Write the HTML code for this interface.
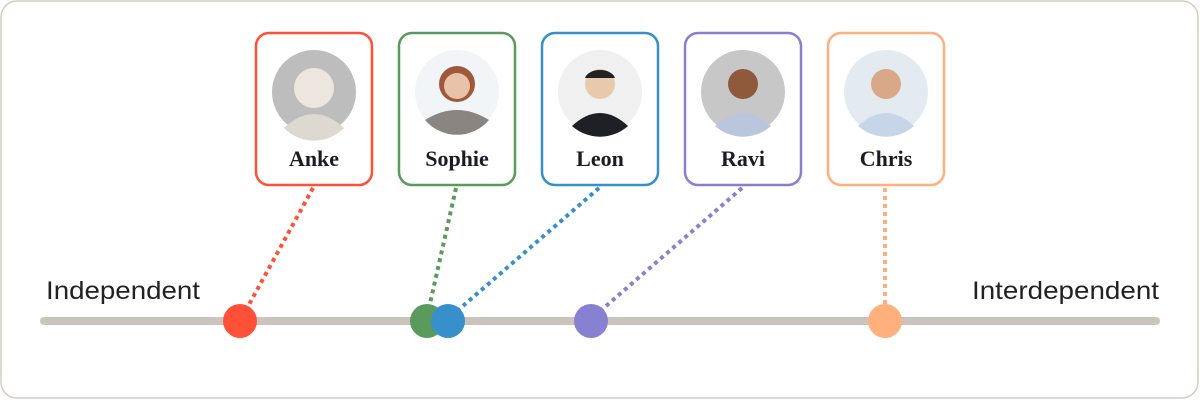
<!DOCTYPE html>
<html><head><style>
body{margin:0;width:1200px;height:400px;background:#fff;overflow:hidden}
</style></head><body>
<svg width="1200" height="400" xmlns="http://www.w3.org/2000/svg">
<rect x="1" y="1" width="1197" height="397" rx="16" fill="#fff" stroke="#d3cec4" stroke-width="1.5"/>
<line x1="44" y1="321" x2="1156" y2="321" stroke="#cbc4bd" stroke-width="8" stroke-linecap="round"/>
<g font-family="Liberation Sans, sans-serif" font-size="25" fill="#222">
<text x="46" y="299" textLength="154" lengthAdjust="spacingAndGlyphs">Independent</text>
<text x="972" y="299" textLength="187" lengthAdjust="spacingAndGlyphs">Interdependent</text>
</g>
<g stroke-width="4" stroke-dasharray="4 4" fill="none">
<line x1="313" y1="188" x2="246" y2="310" stroke="#ff5138"/>
<line x1="456" y1="188" x2="429" y2="308" stroke="#5b9a5d"/>
<line x1="599" y1="188" x2="456" y2="312" stroke="#3790cc"/>
<line x1="742" y1="188" x2="598" y2="313" stroke="#8880d1"/>
<line x1="885" y1="188" x2="885" y2="308" stroke="#ffb07c"/>
</g>
<circle cx="240" cy="321" r="17" fill="#ff5138"/>
<circle cx="427" cy="321" r="17" fill="#5b9a5d"/>
<circle cx="448" cy="321" r="17" fill="#3790cc"/>
<circle cx="591" cy="321" r="17" fill="#8880d1"/>
<circle cx="885" cy="321" r="17" fill="#ffb07c"/>
<g stroke-width="2.5" fill="#fff">
<rect x="256" y="33" width="116" height="152" rx="13" stroke="#ff5138"/>
<rect x="399" y="33" width="116" height="152" rx="13" stroke="#5b9a5d"/>
<rect x="542" y="33" width="116" height="152" rx="13" stroke="#3790cc"/>
<rect x="685" y="33" width="116" height="152" rx="13" stroke="#8880d1"/>
<rect x="828" y="33" width="116" height="152" rx="13" stroke="#ffb07c"/>
</g>
<circle cx="314" cy="92" r="42" fill="#bdbdbd"/>
<circle cx="314" cy="88" r="20" fill="#ece6df"/><path d="M284 128 Q314 100 344 128 A42 42 0 0 1 284 128Z" fill="#ddd8d0"/>
<circle cx="457" cy="92" r="42" fill="#f1f5f7"/>
<circle cx="457" cy="84" r="18" fill="#a0573a"/><circle cx="457" cy="86" r="13" fill="#e9c2aa"/><path d="M425 120 Q457 100 489 120 A42 42 0 0 1 425 120Z" fill="#8a8580"/>
<circle cx="600" cy="92" r="42" fill="#f0f0f0"/>
<circle cx="600" cy="84" r="15" fill="#e8c9ae"/><path d="M600 70 a15 10 0 0 1 15 8 h-30 a15 10 0 0 1 15 -8z" fill="#222"/><path d="M572 126 Q600 100 628 126 A42 42 0 0 1 572 126Z" fill="#1e2026"/>
<circle cx="743" cy="92" r="42" fill="#c7c7c7"/>
<circle cx="743" cy="84" r="15" fill="#8f5a3c"/><path d="M715 126 Q743 100 771 126 A42 42 0 0 1 715 126Z" fill="#b9c6dc"/>
<circle cx="886" cy="92" r="42" fill="#e3ebf1"/>
<circle cx="886" cy="84" r="15" fill="#d9a888"/><path d="M858 126 Q886 100 914 126 A42 42 0 0 1 858 126Z" fill="#c6d6e8"/>
<g font-family="Liberation Serif, serif" font-weight="bold" font-size="22" fill="#1c1c28" text-anchor="middle">
<text x="314" y="166">Anke</text>
<text x="457" y="166">Sophie</text>
<text x="600" y="166">Leon</text>
<text x="743" y="166">Ravi</text>
<text x="886" y="166">Chris</text>
</g>
</svg>
</body></html>
